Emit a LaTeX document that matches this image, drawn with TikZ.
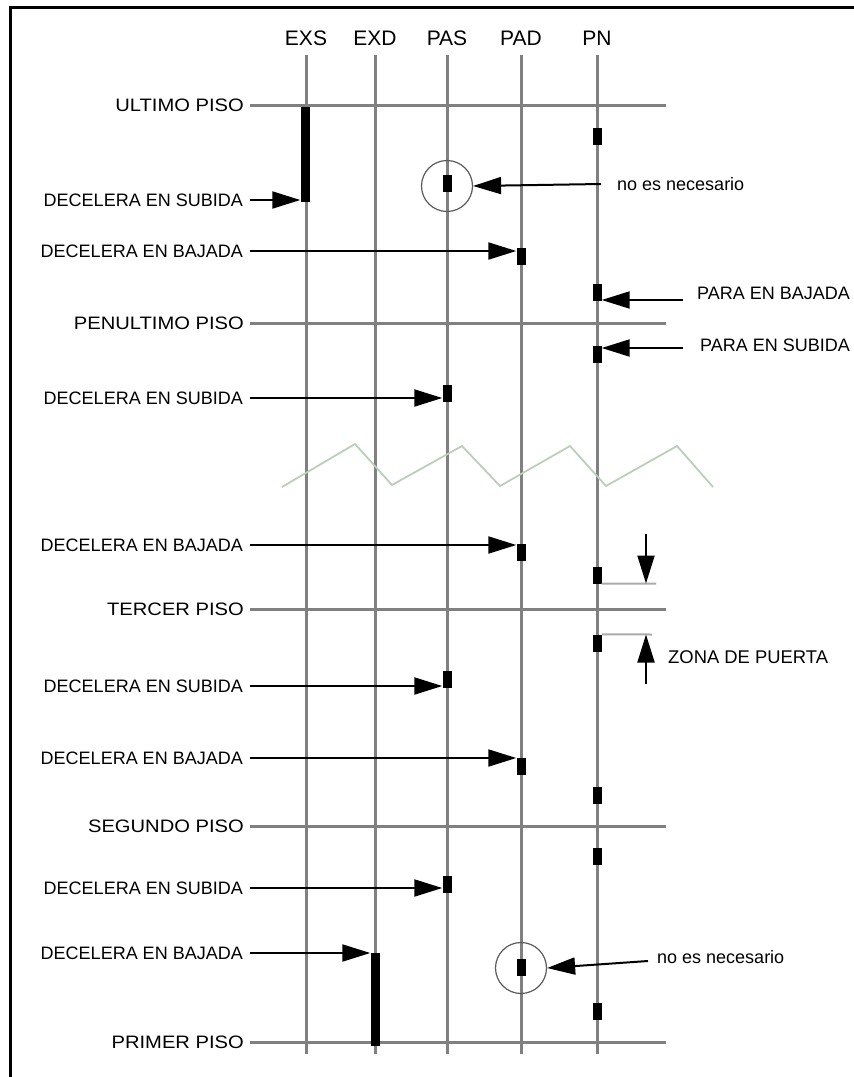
\documentclass[tikz,border=0pt]{standalone}
\usepackage{fontspec}
\setmainfont{Liberation Sans}
\usetikzlibrary{arrows.meta, positioning}
\definecolor{rielgris}{HTML}{808080}
\definecolor{zonagris}{HTML}{ABABAB}
\definecolor{cortegris}{HTML}{BACFBA}
\definecolor{circgris}{HTML}{5A5A5A}
\newcommand{\letra}{\fontsize{18}{21}\selectfont}
\newcommand{\letrita}{\fontsize{18}{21}\selectfont}
\newcommand{\cabeza}{\fontsize{21}{24}\selectfont}
\newcommand{\ancho}[1]{\scalebox{1.12}[1]{#1}}

\begin{document}
\begin{tikzpicture}[x=1pt, y=-1pt]
    \tikzstyle{every node}=[inner sep=0pt];
    \tikzstyle{riel}=[rielgris, line width=3pt];
    \tikzstyle{iman}=[fill=black, minimum width=9pt, minimum height=17pt];
    \tikzstyle{flecha}=[line width=2pt, -{Triangle[length=28pt, width=17pt]}];
    \tikzstyle{etiqueta}=[anchor=east, font=\letra];
    \tikzstyle{nota}=[anchor=west, font=\letrita];
    \tikzstyle{zona}=[zonagris, line width=2pt];
    \tikzstyle{aro}=[circle, draw=circgris, line width=1.2pt, minimum size=51pt];

    \useasboundingbox (0,0) rectangle (854,1077);
    % marco
    \draw[line width=3pt] (10.5,1077) -- (10.5,7.5) -- (854,7.5);

    % columnas
    \foreach \nombre/\x in {EXS/306, EXD/375, PAS/447, PAD/521, PN/597} {
      \node[font=\cabeza] (h\nombre) at (\x,38) {\nombre};
      \coordinate (t\nombre) at (\x,55);
      \coordinate (b\nombre) at (\x,1054);
      \draw[riel] (t\nombre) -- (b\nombre);
    }

    % pisos
    \foreach \n/\texto/\y in {ult/ULTIMO PISO/105, pen/PENULTIMO PISO/323, ter/TERCER PISO/609, seg/SEGUNDO PISO/826, pri/PRIMER PISO/1042} {
      \node[etiqueta] (\n) at (244,\y) {\ancho{\texto}};
      \coordinate (\n-f) at (666,\y);
      \draw[riel] ([xshift=6pt]\n.east) -- (\n-f);
    }

    % corte
    \draw[cortegris, line width=1.8pt] (282,487) -- (355,444) -- (392,485) -- (462,446) -- (500,486)
      -- (570,446) -- (606,486) -- (677,446) -- (713,487);

    % imanes
    \node[iman, minimum height=95pt] (barEXS) at (305,154.5) {};
    \node[iman, minimum height=93pt] (barEXD) at (375,999) {};
    \node[iman] (mPAS0) at (447,183) {};
    \node[iman] (mPAD1) at (521,256) {};
    \node[iman] (mPAS1) at (447,393) {};
    \node[iman] (mPAD2) at (521,552) {};
    \node[iman] (mPAS2) at (447,679) {};
    \node[iman] (mPAD3) at (521,766) {};
    \node[iman] (mPAS3) at (447,884) {};
    \node[iman] (mPAD0) at (521,967) {};
    \node[iman] (mPN1) at (597,136) {};
    \node[iman] (mPN2) at (597,292) {};
    \node[iman] (mPN3) at (597,354) {};
    \node[iman] (mPN4) at (597,575) {};
    \node[iman] (mPN5) at (597,643) {};
    \node[iman] (mPN6) at (597,795) {};
    \node[iman] (mPN7) at (597,856) {};
    \node[iman] (mPN8) at (597,1011) {};

    % decelera
    \node[etiqueta] (d1) at (243,200) {DECELERA EN SUBIDA};
    \node[etiqueta] (d2) at (243,251) {DECELERA EN BAJADA};
    \node[etiqueta] (d3) at (243,398) {DECELERA EN SUBIDA};
    \node[etiqueta] (d4) at (243,545) {DECELERA EN BAJADA};
    \node[etiqueta] (d5) at (243,686) {DECELERA EN SUBIDA};
    \node[etiqueta] (d6) at (243,758) {DECELERA EN BAJADA};
    \node[etiqueta] (d7) at (243,888) {DECELERA EN SUBIDA};
    \node[etiqueta] (d8) at (243,953) {DECELERA EN BAJADA};
    \draw[flecha] ([xshift=7pt]d1.east) -- (d1.east -| barEXS.west);
    \draw[flecha] ([xshift=7pt]d2.east) -- (d2.east -| mPAD1.west);
    \draw[flecha] ([xshift=7pt]d3.east) -- (d3.east -| mPAS1.west);
    \draw[flecha] ([xshift=7pt]d4.east) -- (d4.east -| mPAD2.west);
    \draw[flecha] ([xshift=7pt]d5.east) -- (d5.east -| mPAS2.west);
    \draw[flecha] ([xshift=7pt]d6.east) -- (d6.east -| mPAD3.west);
    \draw[flecha] ([xshift=7pt]d7.east) -- (d7.east -| mPAS3.west);
    \draw[flecha] ([xshift=7pt]d8.east) -- (d8.east -| barEXD.west);

    % no es necesario
    \node[aro] (c1) at (447,186) {};
    \node[aro] (c2) at (521,968) {};
    \node[nota] (n1) at (617,184) {no es necesario};
    \node[nota] (n2) at (657,957) {no es necesario};
    \draw[flecha] ([xshift=-16pt]n1.west) -- (c1.east);
    \draw[flecha] ([xshift=-9pt,yshift=-4pt]n2.west) -- (c2.east);

    % para
    \node[nota, font=\letra] (p1) at (697,293) {PARA EN BAJADA};
    \node[nota, font=\letra] (p2) at (700,345) {PARA EN SUBIDA};
    \coordinate (p1c) at (683,300);
    \coordinate (p2c) at (683,348);
    \draw[flecha] (p1c) -- (p1c -| mPN2.east);
    \draw[flecha] (p2c) -- (p2c -| mPN3.east);

    % zona de puerta
    \coordinate (z1) at (656,583.5);
    \coordinate (z2) at (652,634.5);
    \draw[zona] (mPN4.south east) -- (z1);
    \draw[zona] (mPN5.north east) -- (z2);
    \coordinate (z1a) at (646,534);
    \coordinate (z2a) at (646,684);
    \draw[flecha] (z1a) -- (z1a |- z1);
    \draw[flecha] (z2a) -- (z2a |- z2);
    \node[nota, font=\fontsize{18.4}{21}\selectfont] (zp) at (668,657) {ZONA DE PUERTA};
\end{tikzpicture}
\end{document}
